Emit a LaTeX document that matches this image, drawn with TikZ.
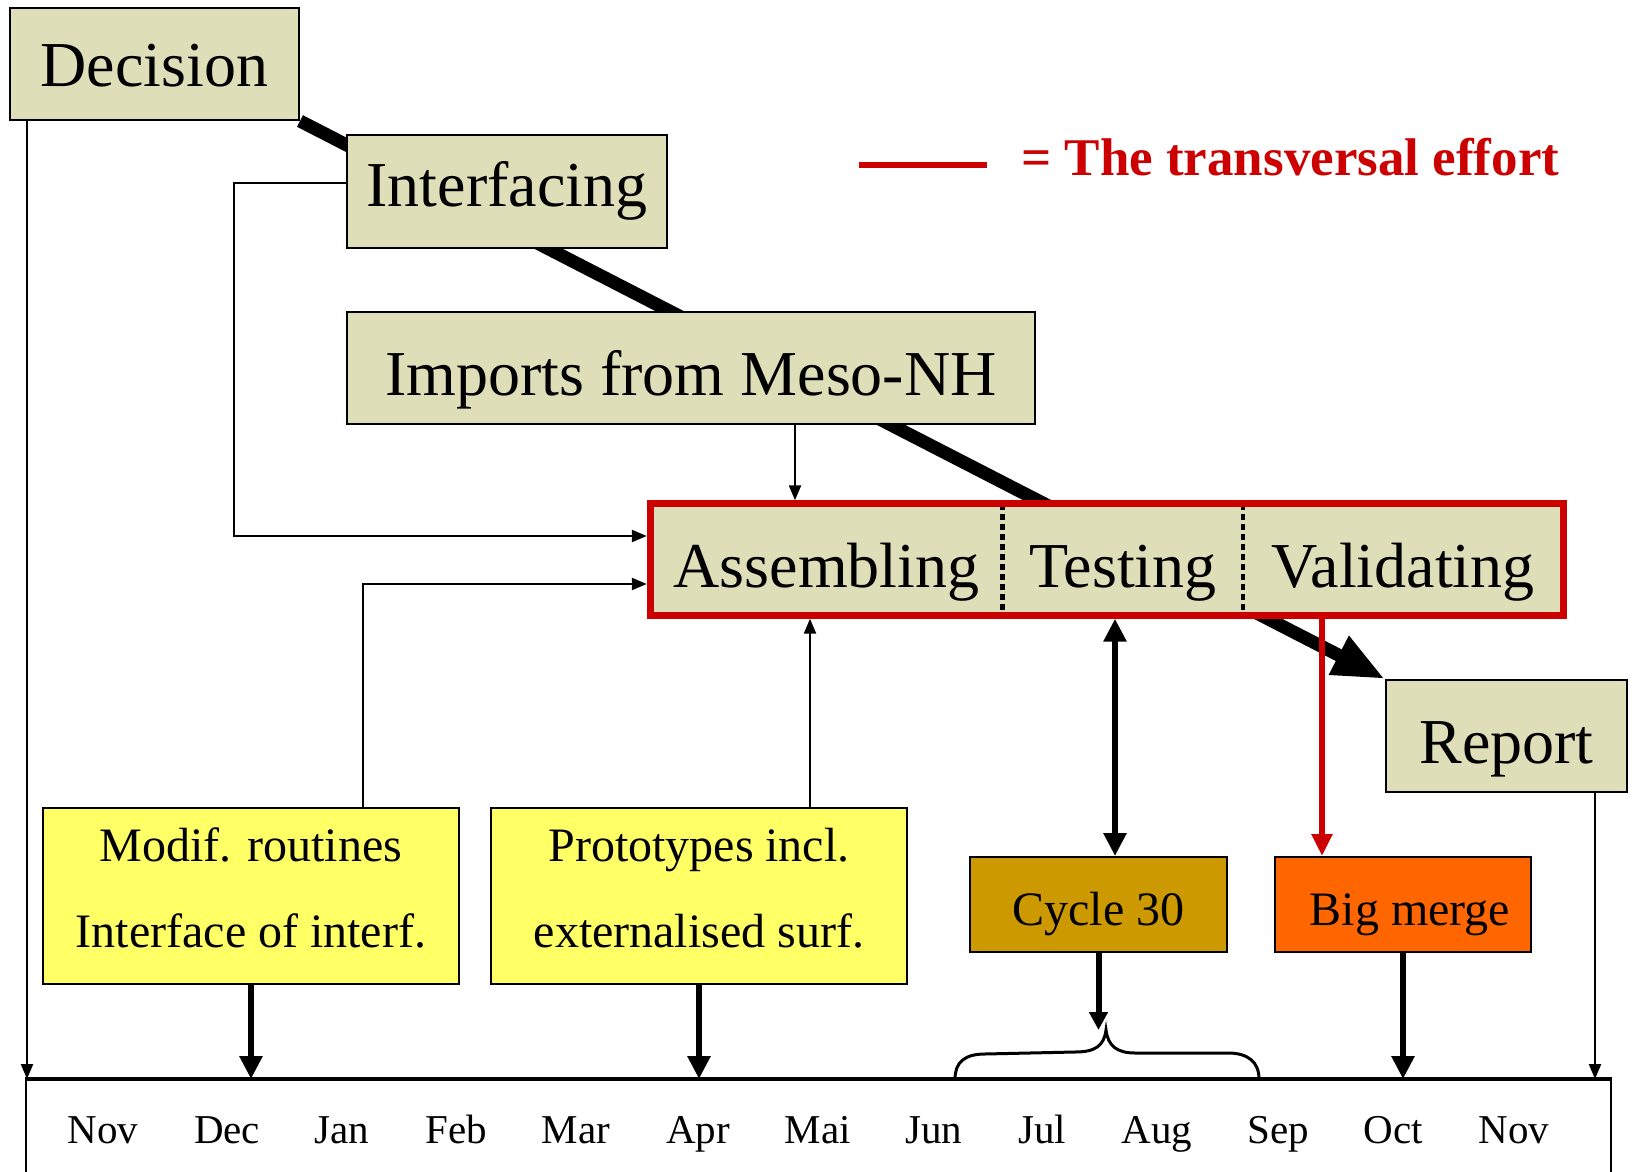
\documentclass[tikz,border=0pt]{standalone}
\usepackage{fontspec}
\setmainfont{Liberation Serif}
\usetikzlibrary{arrows.meta,backgrounds,fit,calc}
\definecolor{beige}{RGB}{222,222,184}
\definecolor{yel}{RGB}{255,255,102}
\definecolor{cyc}{RGB}{204,153,0}
\definecolor{mrg}{RGB}{255,102,0}
\definecolor{effred}{RGB}{204,0,0}
\begin{document}
\begin{tikzpicture}[x=1pt,y=-1pt,
  box/.style={draw=black, line width=2pt, fill=beige, inner sep=0pt, font=\fontsize{64}{70}\selectfont},
  part/.style={fill=beige, inner sep=0pt, minimum height=111pt, text height=55pt, text depth=0pt, font=\fontsize{64}{70}\selectfont},
  ybox/.style={draw=black, line width=2pt, fill=yel, inner sep=0pt, align=center, minimum width=416pt, minimum height=176pt, font=\fontsize{48}{86}\selectfont},
  cbox/.style={draw=black, line width=2pt, inner sep=0pt, minimum width=256pt, minimum height=95pt, text height=41pt, text depth=0pt, font=\fontsize{48}{56}\selectfont},
  month/.style={anchor=base, inner sep=0pt, font=\fontsize{41}{48}\selectfont},
  thinarr/.style={line width=2.3pt, -{Triangle[length=15pt,width=12pt]}},
  thickarr/.style={line width=6.5pt, -{Triangle[length=23pt,width=22pt]}},
  diag/.style={line width=13pt, -{Triangle[length=52pt,width=40pt]}},
  sep/.style={line width=4.5pt, dash pattern=on 6pt off 4pt},
]
\useasboundingbox (0,0) rectangle (1634,1172);

% main boxes
\node[box, minimum width=289pt, minimum height=112pt, text height=45pt, text depth=0pt] (dec) at (154.5,64) {Decision};
\node[box, minimum width=320pt, minimum height=113pt, text height=29pt, text depth=0pt] (intf) at (507,191.5) {Interfacing};
\node[box, minimum width=688pt, minimum height=112pt, text height=54pt, text depth=0pt] (imp) at (691,368) {Imports from Meso-NH};
\node[part, minimum width=352pt] (asm) at (826.5,559.5) {Assembling};
\node[part, minimum width=240.5pt] (tst) at (1122.75,559.5) {Testing};
\node[part, minimum width=320pt] (val) at (1403,559.5) {Validating};
\draw[sep] (asm.north east) -- (asm.south east);
\draw[sep] (tst.north east) -- (tst.south east);
\node[fit=(asm)(tst)(val), inner sep=0pt, draw=effred, line width=7pt] (big) {};
\node[box, minimum width=241pt, minimum height=112pt, text height=54pt, text depth=0pt] (rep) at (1506.5,736) {Report};

\node[ybox] (mod) at (251,896) {Modif. routines\\Interface of interf.\rule[-16pt]{0pt}{16pt}};
\node[ybox] (pro) at (699,896) {Prototypes incl.\\externalised surf.\rule[-16pt]{0pt}{16pt}};
\node[cbox, fill=cyc, minimum width=257pt] (cyc) at (1098.5,904.5) {Cycle 30};
\node[cbox, fill=mrg] (bm) at (1403,904.5) {\hspace*{14pt}Big merge};

% timeline
\node[draw=black, line width=2pt, inner sep=0pt, minimum width=1585pt, minimum height=120pt] (tl) at (818.5,1140) {};
\draw[line width=3.5pt] (tl.north west) -- (tl.north east);
\node[month] (m1) at (103,1143) {Nov};
\node[month] (m2) at (227,1143) {Dec};
\node[month] (m3) at (342,1143) {Jan};
\node[month] (m4) at (456,1143) {Feb};
\node[month] (m5) at (576,1143) {Mar};
\node[month] (m6) at (698,1143) {Apr};
\node[month] (m7) at (818,1143) {Mai};
\node[month] (m8) at (934,1143) {Jun};
\node[month] (m9) at (1042,1143) {Jul};
\node[month] (m10) at (1157,1143) {Aug};
\node[month] (m11) at (1278,1143) {Sep};
\node[month] (m12) at (1393,1143) {Oct};
\node[month] (m13) at (1514,1143) {Nov};

% legend
\draw[effred, line width=6pt] (859,165) -- (987,165);
\node[anchor=base west, inner sep=0pt, text=effred, font=\bfseries\fontsize{53}{60}\selectfont] (leg) at (1021,175) {= The transversal effort};

% helper coordinates
\coordinate (x1) at (27,0);
\coordinate (i1) at (234,183);
\coordinate (i2) at (0,536);
\coordinate (mm) at (363,584);
\coordinate (x2) at (795,0);
\coordinate (x3) at (810,0);
\coordinate (x4) at (1115,0);
\coordinate (x5) at (1322,0);
\coordinate (x6) at (1595,0);
\coordinate (brtip) at (1099,1030);

% connectors
\draw[thinarr] (x1 |- dec.south) -- (x1 |- tl.north);
\draw[thinarr] (intf.west |- i1) -- (i1) |- (big.west |- i2);
\draw[thinarr] (mod.north -| mm) |- (big.west |- mm);
\draw[thinarr] (imp.south -| x2) -- (big.north -| x2);
\draw[thinarr] (pro.north -| x3) -- (big.south -| x3);
\draw[line width=6pt, {Triangle[length=23pt,width=22pt]}-{Triangle[length=23pt,width=22pt]}] (big.south -| x4) -- (cyc.north -| x4);
\draw[effred, line width=6pt, -{Triangle[length=22pt,width=20pt]}] (big.south -| x5) -- (bm.north -| x5);
\draw[thinarr] (rep.south -| x6) -- (x6 |- tl.north);
\draw[thickarr] (mod.south) -- (mod.south |- tl.north);
\draw[thickarr] (pro.south) -- (pro.south |- tl.north);
\draw[thickarr] (bm.south) -- (bm.south |- tl.north);
\draw[line width=6pt, -{Triangle[length=18pt,width=18pt]}] (cyc.south) -- (cyc.south |- brtip);

% brace
\draw[line width=3pt] (955,1079) .. controls (955,1062) and (965,1054) .. (985,1054) -- (1075,1052) .. controls (1095,1052) and (1104,1046) .. (1106,1030) .. controls (1108,1046) and (1117,1053) .. (1135,1053) -- (1228,1053) .. controls (1248,1053) and (1259,1062) .. (1259,1079);

\begin{pgfonlayer}{background}
\fill[white] (0,0) rectangle (1634,1172);
\draw[diag] (dec.south east) -- (rep.north west);
\end{pgfonlayer}
\end{tikzpicture}
\end{document}
